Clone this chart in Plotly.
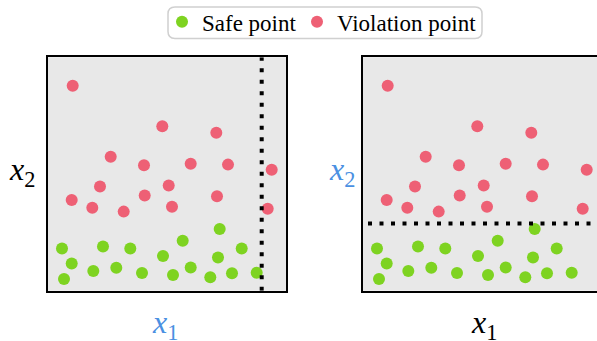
import plotly.graph_objects as go

# ---- data (same point cloud in both panels) ----
safe_x1 = [14, 55, 82.3, 134.7, 171.7, 193.7, 23.7, 115, 170, 16, 45.3, 68.3, 94, 125, 142.7, 162.3, 184, 208.7]
safe_x2 = [43, 45, 43, 50.7, 62.7, 43, 27.7, 35.3, 33.7, 12, 20, 23.3, 18, 16, 23.7, 13.7, 17.7, 18.3]
viol_x1 = [24.7, 114.3, 168.3, 62.7, 96, 142.7, 180, 223.7, 52, 120.7, 23.7, 96.7, 169, 44.3, 75.7, 124, 219.7]
viol_x2 = [208, 167, 160.3, 136, 127.3, 129, 128, 122.7, 105.7, 106.7, 92, 96.7, 96, 84.3, 80.3, 85.3, 83.3]
threshold_x1 = 213.7   # vertical split, left panel
threshold_x2 = 68.3    # horizontal split, right panel
series_names = ["Safe point", "Violation point"]

W, H = 597, 341
GREEN = "#7ed321"
RED = "#ee6075"
BLUE = "#4a90e2"
BG = "#e8e8e8"
SERIF = "Liberation Serif, Times New Roman, DejaVu Serif, serif"

def px(x):
    return x / W

def py(y):
    return 1 - y / H

fig = go.Figure()
for i, (xa, ya) in enumerate([("x", "y"), ("x2", "y2")]):
    fig.add_trace(go.Scatter(x=safe_x1, y=safe_x2, mode="markers", name=series_names[0],
                             marker=dict(color=GREEN, size=12), xaxis=xa, yaxis=ya,
                             showlegend=(i == 0), legendgroup="s", legend="legend"))
    fig.add_trace(go.Scatter(x=viol_x1, y=viol_x2, mode="markers", name=series_names[1],
                             marker=dict(color=RED, size=12), xaxis=xa, yaxis=ya,
                             showlegend=(i == 0), legendgroup="v", legend="legend2"))

common = dict(showgrid=False, zeroline=False, showticklabels=False, ticks="",
              showline=True, linecolor="black", linewidth=2)
leg_common = dict(orientation="h", xanchor="left", y=py(17), yanchor="middle",
                  bgcolor="rgba(0,0,0,0)", borderwidth=0,
                  font=dict(family=SERIF, size=23, color="black"))

fig.update_layout(
    width=W, height=H,
    margin=dict(l=0, r=0, t=0, b=0),
    paper_bgcolor="white",
    plot_bgcolor=BG,
    xaxis=dict(domain=[px(48), px(286)], range=[0, 238], mirror=True, anchor="y", **common),
    yaxis=dict(domain=[py(290), py(53)], range=[0, 237], mirror=True, anchor="x", **common),
    xaxis2=dict(domain=[px(363), 1.0], range=[0, 234], mirror=True, anchor="y2", **common),
    yaxis2=dict(domain=[py(290), py(53)], range=[0, 237], mirror=False, anchor="x2", **common),
    showlegend=True,
    legend=dict(x=px(162), **leg_common),
    legend2=dict(x=px(297), **leg_common),
)

# threshold lines
dash = "4px,7.5px"
fig.add_shape(type="line", xref="x", yref="y", x0=threshold_x1, x1=threshold_x1, y0=0, y1=237,
              line=dict(color="black", width=4, dash=dash))
fig.add_shape(type="line", xref="x2", yref="y2", x0=5, x1=234, y0=threshold_x2, y1=threshold_x2,
              line=dict(color="black", width=4, dash=dash))

# rounded legend box
x0, x1, y0, y1 = px(168), px(482), py(2), py(34)
rx, ry = 7 / W, 7 / H
path = (f"M {x0+rx},{y0} L {x1-rx},{y0} Q {x1},{y0} {x1},{y0-ry} "
        f"L {x1},{y1+ry} Q {x1},{y1} {x1-rx},{y1} L {x0+rx},{y1} Q {x0},{y1} {x0},{y1+ry} "
        f"L {x0},{y0-ry} Q {x0},{y0} {x0+rx},{y0} Z")
fig.add_shape(type="path", xref="paper", yref="paper", path=path,
              line=dict(color="#d0d0d0", width=1.5), fillcolor="rgba(0,0,0,0)", layer="below")

# axis labels
lab_font = dict(family=SERIF, size=32)
labels = [
    ("<i>x</i><sub>2</sub>", 22, 169, "black"),
    ("<i>x</i><sub>1</sub>", 165, 324, BLUE),
    ("<i>x</i><sub>2</sub>", 342, 169, BLUE),
    ("<i>x</i><sub>1</sub>", 484, 324, "black"),
]
for txt, lx, ly, col in labels:
    fig.add_annotation(text=txt, x=px(lx), y=py(ly), xref="paper", yref="paper",
                       xanchor="center", yanchor="middle", showarrow=False,
                       font=dict(color=col, **lab_font))

fig.write_html("out.html", config={"displayModeBar": False},
               post_script="document.body.style.margin='0';document.body.style.overflow='hidden';")
